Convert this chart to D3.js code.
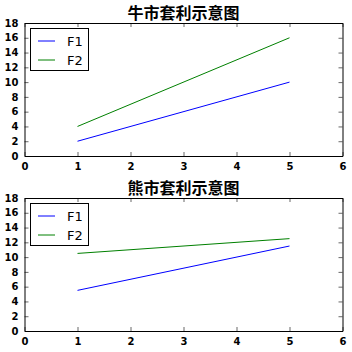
<!DOCTYPE html>
<head>
  <meta charset="utf-8">
  <script src="https://d3js.org/d3.v7.min.js"></script>
  <style>
    body { margin:0; background:#fff; }
    svg { font-family: "DejaVu Sans", sans-serif; }
  </style>
</head>
<body>
<script>
  // data
  var xVals = [1, 5];
  var bullF1 = [2, 10];
  var bullF2 = [4, 16];
  var bearF1 = [5.5, 11.5];
  var bearF2 = [10.5, 12.5];
  var titles = ["牛市套利示意图", "熊市套利示意图"];
  var seriesNames = ["F1", "F2"];
  var colors = ["#0000ff", "#008000"];
  var xTicks = [0, 1, 2, 3, 4, 5, 6];
  var yTicks = [0, 2, 4, 6, 8, 10, 12, 14, 16, 18];

  var panels = [
    {title: titles[0], series: [bullF1, bullF2], top: 23},
    {title: titles[1], series: [bearF1, bearF2], top: 198}
  ];

  var width = 352, height = 352;
  var left = 24.5, right = 342.5, ph = 133;

  var svg = d3.select("body").append("svg")
    .attr("width", width)
    .attr("height", height);

  var x = d3.scaleLinear().domain([0, 6]).range([left, right]);

  panels.forEach(function(p) {
    var y = d3.scaleLinear().domain([0, 18]).range([p.top + ph, p.top]);
    var g = svg.append("g");

    // title
    g.append("text")
      .attr("x", (left + right) / 2)
      .attr("y", p.top - 4)
      .attr("text-anchor", "middle")
      .style("font-family", "'Noto Sans CJK SC', sans-serif")
      .style("font-weight", "bold")
      .style("font-size", "16px")
      .text(p.title);

    // lines
    var line = d3.line()
      .x(function(d, i) { return x(xVals[i]); })
      .y(function(d) { return y(d); });

    p.series.forEach(function(s, i) {
      g.append("path")
        .datum(s)
        .attr("fill", "none")
        .attr("stroke", colors[i])
        .attr("stroke-width", 1)
        .attr("d", line);
    });

    // axes, ticks pointing inward on all sides
    var fmt = d3.format("d");
    var bottomAx = d3.axisBottom(x).tickValues(xTicks).tickFormat(fmt).tickSizeInner(-4).tickSizeOuter(0).tickPadding(7);
    var topAx = d3.axisTop(x).tickValues(xTicks).tickSizeInner(-4).tickSizeOuter(0).tickFormat("");
    var leftAx = d3.axisLeft(y).tickValues(yTicks).tickFormat(fmt).tickSizeInner(-4).tickSizeOuter(0).tickPadding(6);
    var rightAx = d3.axisRight(y).tickValues(yTicks).tickSizeInner(-4).tickSizeOuter(0).tickFormat("");

    var axes = [
      g.append("g").attr("transform", "translate(0," + (p.top + ph) + ")").call(bottomAx),
      g.append("g").attr("transform", "translate(0," + p.top + ")").call(topAx),
      g.append("g").attr("transform", "translate(" + left + ",0)").call(leftAx),
      g.append("g").attr("transform", "translate(" + right + ",0)").call(rightAx)
    ];
    axes.forEach(function(a) {
      a.select(".domain").attr("stroke", "#000").attr("stroke-width", 1);
      a.selectAll(".tick line").attr("stroke", "#000").attr("stroke-width", 0.6);
      a.selectAll("text")
        .style("font-family", "'DejaVu Sans', sans-serif")
        .style("font-weight", "bold")
        .style("font-size", "10px")
        .attr("fill", "#000");
    });

    // legend
    var lg = g.append("g");
    lg.append("rect")
      .attr("x", 30.5).attr("y", p.top + 5.5)
      .attr("width", 58).attr("height", 42)
      .attr("fill", "#fff").attr("stroke", "#000").attr("stroke-width", 1);
    seriesNames.forEach(function(name, i) {
      var ly = p.top + 18 + i * 19;
      lg.append("line")
        .attr("x1", 38).attr("x2", 55)
        .attr("y1", ly).attr("y2", ly)
        .attr("stroke", colors[i]).attr("stroke-width", 1);
      lg.append("text")
        .attr("x", 67).attr("y", ly + 4.5)
        .style("font-size", "13px")
        .text(name);
    });
  });
</script>
</body>
